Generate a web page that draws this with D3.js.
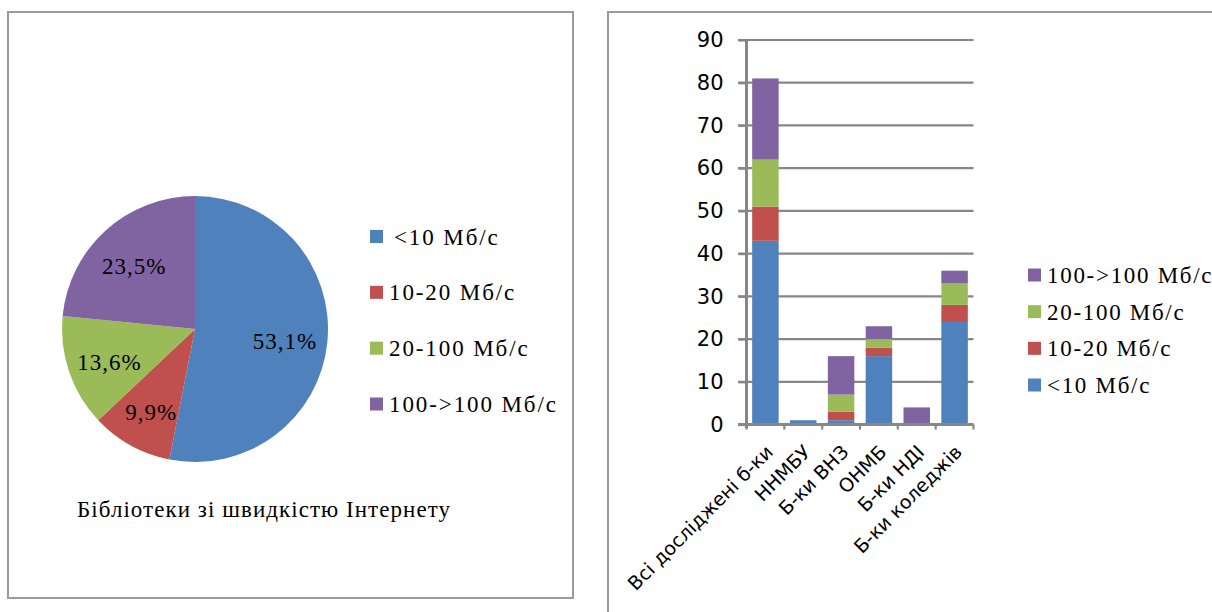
<!DOCTYPE html>
<html>
<head>
<meta charset="utf-8">
<script src="https://cdn.jsdelivr.net/npm/d3@7"></script>
<style>
  html, body { margin: 0; padding: 0; background: #fff; }
  svg { display: block; }
</style>
</head>
<body>
<svg id="chart" width="1212" height="612"></svg>
<script>
// ---- data ----
const seriesNames = ["<10 Мб/с", "10-20 Мб/с", "20-100 Мб/с", "100->100 Мб/с"];
const seriesColors = ["#4F81BD", "#C0504D", "#9BBB59", "#8064A2"];
const categories = ["Всі досліджені б-ки", "ННМБУ", "Б-ки ВНЗ", "ОНМБ", "Б-ки НДІ", "Б-ки коледжів"];
const below10 = [43, 1, 1, 16, 0, 24];
const from10to20 = [8, 0, 2, 2, 0, 4];
const from20to100 = [11, 0, 4, 2, 0, 5];
const over100 = [19, 0, 9, 3, 4, 3];
const pieValues = [43, 8, 11, 19];
const yTicks = [0, 10, 20, 30, 40, 50, 60, 70, 80, 90];
const pieTitle = "Бібліотеки зі швидкістю Інтернету";

const svg = d3.select("#chart");
svg.append("rect").attr("width", 1212).attr("height", 612).attr("fill", "#fff");

// panel borders
svg.append("rect").attr("x", 8).attr("y", 12).attr("width", 565).attr("height", 586)
  .attr("fill", "none").attr("stroke", "#9a9a9a").attr("stroke-width", 2);
svg.append("rect").attr("x", 608).attr("y", 12).attr("width", 700).attr("height", 700)
  .attr("fill", "none").attr("stroke", "#9a9a9a").attr("stroke-width", 2);

const serif = "'Liberation Serif', 'DejaVu Serif', serif";
const sans = "'DejaVu Sans', 'Open Sans', sans-serif";

// ---- pie ----
const cx = 195, cy = 329, R = 133;
const pie = d3.pie().sort(null).value(d => d)(pieValues);
const arc = d3.arc().innerRadius(0).outerRadius(R);
const labelArc = d3.arc().innerRadius(R * 0.68).outerRadius(R * 0.68);
const total = d3.sum(pieValues);
const gPie = svg.append("g").attr("transform", `translate(${cx},${cy})`);
gPie.selectAll("path").data(pie).join("path")
  .attr("d", arc).attr("fill", (d, i) => seriesColors[i]);
const fmt = v => (v * 100).toFixed(1).replace(".", ",") + "%";
gPie.selectAll("text").data(pie).join("text")
  .attr("transform", d => `translate(${labelArc.centroid(d)})`)
  .attr("text-anchor", "middle").attr("dy", "0.5em")
  .attr("font-family", serif).attr("font-size", 23).attr("letter-spacing", 1)
  .attr("fill", "#000")
  .text(d => fmt(d.value / total));

// pie legend
const pieLegY = d3.scalePoint().domain(seriesNames).range([236.5, 404]);
const gPL = svg.append("g");
seriesNames.forEach((s, i) => {
  const y = pieLegY(s);
  gPL.append("rect").attr("x", 370).attr("y", y - 6.5).attr("width", 13).attr("height", 13)
    .attr("fill", seriesColors[i]);
  gPL.append("text").attr("x", i === 0 ? 394 : 389).attr("y", y).attr("dy", "0.35em")
    .attr("font-family", serif).attr("font-size", 23).attr("letter-spacing", 1.9)
    .text(s);
});
svg.append("text").attr("x", 77).attr("y", 517)
  .attr("font-family", serif).attr("font-size", 23).attr("letter-spacing", 1.05)
  .text(pieTitle);

// ---- stacked bar ----
const seriesData = [below10, from10to20, from20to100, over100];
const rows = categories.map((c, i) => {
  const r = { cat: c };
  seriesNames.forEach((s, k) => r[s] = seriesData[k][i]);
  return r;
});
const stack = d3.stack().keys(seriesNames)(rows);

const x = d3.scaleBand().domain(categories).range([746.5, 973.5]).paddingInner(0.3).paddingOuter(0.15);
const y = d3.scaleLinear().domain([0, 90]).range([424.5, 40]);
const axisColor = "#878787";

// gridlines
svg.append("g").selectAll("line").data(yTicks.filter(t => t > 0)).join("line")
  .attr("x1", 738).attr("x2", 973.5).attr("y1", d => y(d)).attr("y2", d => y(d))
  .attr("stroke", axisColor).attr("stroke-width", 2.2);

// bars
const gBars = svg.append("g");
stack.forEach((layer, k) => {
  gBars.selectAll(null).data(layer).join("rect")
    .attr("x", (d, i) => x(categories[i]))
    .attr("width", x.bandwidth())
    .attr("y", d => y(d[1]))
    .attr("height", d => y(d[0]) - y(d[1]))
    .attr("fill", seriesColors[k]);
});

// y axis
const yAxis = d3.axisLeft(y).tickValues(yTicks).tickSize(8).tickPadding(15);
const gy = svg.append("g").attr("transform", "translate(746.5,0)").call(yAxis);
gy.select(".domain").attr("stroke", axisColor).attr("stroke-width", 3).attr("d", "M0,40V428");
gy.selectAll(".tick line").attr("stroke", axisColor).attr("stroke-width", 2.2);
gy.selectAll(".tick text").attr("font-family", sans).attr("font-size", 21).attr("fill", "#000");

// x axis
const gx = svg.append("g").attr("transform", "translate(0,424.5)");
gx.append("line").attr("x1", 738).attr("x2", 973.5).attr("stroke", axisColor).attr("stroke-width", 3);
const bounds = categories.map(c => x(c) - x.step() * x.paddingInner() / 2);
bounds.push(x(categories[categories.length - 1]) + x.bandwidth() + x.step() * x.paddingInner() / 2);
gx.selectAll("line.tk").data(bounds).join("line").attr("class", "tk")
  .attr("x1", d => d).attr("x2", d => d).attr("y1", 0).attr("y2", 5)
  .attr("stroke", axisColor).attr("stroke-width", 2.2);
gx.selectAll("text").data(categories).join("text")
  .attr("transform", c => `translate(${x(c) + x.bandwidth() / 2 + 4},${24}) rotate(-45)`)
  .attr("text-anchor", "end").attr("dy", "0.35em")
  .attr("font-family", sans).attr("font-size", 19).attr("fill", "#000")
  .text(c => c);

// bar legend (reverse order)
const barLegY = d3.scalePoint().domain(seriesNames.slice().reverse()).range([275, 385]);
const gBL = svg.append("g");
seriesNames.forEach((s, i) => {
  const yy = barLegY(s);
  gBL.append("rect").attr("x", 1028).attr("y", yy - 6.5).attr("width", 13).attr("height", 13)
    .attr("fill", seriesColors[i]);
  gBL.append("text").attr("x", 1047).attr("y", yy).attr("dy", "0.35em")
    .attr("font-family", serif).attr("font-size", 23).attr("letter-spacing", 1.7)
    .text(s);
});
</script>
</body>
</html>
